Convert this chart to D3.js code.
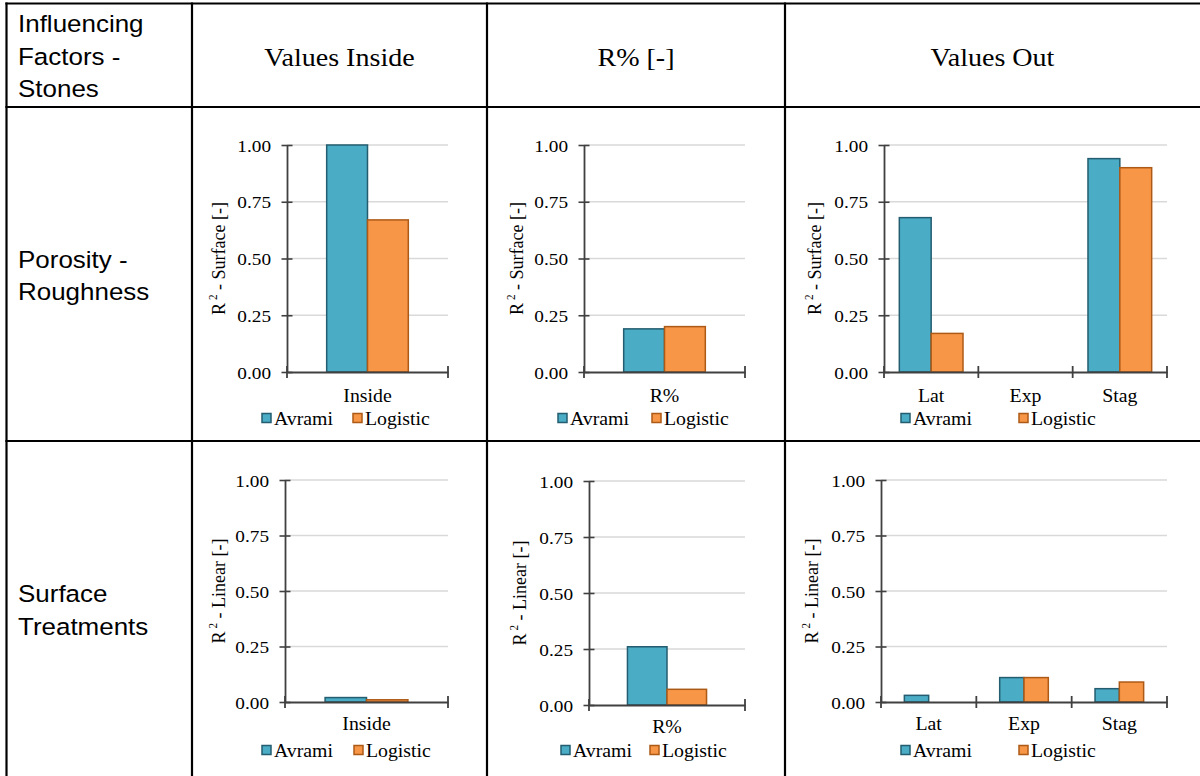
<!DOCTYPE html>
<html>
<head>
<meta charset="utf-8">
<script src="https://cdn.jsdelivr.net/npm/d3@7"></script>
<style>
  html, body { margin: 0; padding: 0; background: #fff; }
  svg { display: block; }
</style>
</head>
<body>
<svg id="chart" width="1200" height="776"></svg>
<script>
// ---------- data ----------
const seriesNames = ["Avrami", "Logistic"];
const columnHeaders = ["Values Inside", "R% [-]", "Values Out"];
const cornerHeader = ["Influencing", "Factors -", "Stones"];
const rowHeaders = [["Porosity -", "Roughness"], ["Surface", "Treatments"]];
const rowAxisTitles = ["Surface", "Linear"];
const yTickValues = [0, 0.25, 0.5, 0.75, 1];

const catsInside = ["Inside"];
const catsRatio = ["R%"];
const catsOut = ["Lat", "Exp", "Stag"];

// R² of the surface fit (porosity - roughness)
const surfaceInsideAvrami = [1.00];
const surfaceInsideLogistic = [0.67];
const surfaceRatioAvrami = [0.19];
const surfaceRatioLogistic = [0.20];
const surfaceOutAvrami = [0.68, null, 0.94];
const surfaceOutLogistic = [0.17, null, 0.90];

// R² of the linear fit (surface treatments)
const linearInsideAvrami = [0.02];
const linearInsideLogistic = [0.01];
const linearRatioAvrami = [0.26];
const linearRatioLogistic = [0.07];
const linearOutAvrami = [0.03, 0.11, 0.06];
const linearOutLogistic = [null, 0.11, 0.09];

// ---------- panels ----------
const panels = [
  { row: 0, cats: catsInside, values: [surfaceInsideAvrami, surfaceInsideLogistic] },
  { row: 0, cats: catsRatio,  values: [surfaceRatioAvrami, surfaceRatioLogistic] },
  { row: 0, cats: catsOut,    values: [surfaceOutAvrami, surfaceOutLogistic] },
  { row: 1, cats: catsInside, values: [linearInsideAvrami, linearInsideLogistic] },
  { row: 1, cats: catsRatio,  values: [linearRatioAvrami, linearRatioLogistic] },
  { row: 1, cats: catsOut,    values: [linearOutAvrami, linearOutLogistic] }
];

// plot frames inside each table cell
const frames = [
  { left: 287, right: 448,  top: 145, bottom: 372, group: 0.507, titleX: 225, catY: 402, legY: 418, legX: [262, 353] },
  { left: 584, right: 745,  top: 145, bottom: 372, group: 0.507, titleX: 523, catY: 402, legY: 418, legX: [558, 652] },
  { left: 884, right: 1167, top: 145, bottom: 372, group: 0.675, titleX: 821, catY: 402, legY: 418, legX: [901, 1019] },
  { left: 285, right: 448,  top: 480, bottom: 702, group: 0.508, titleX: 225, catY: 730, legY: 750, legX: [262, 354] },
  { left: 589, right: 745,  top: 481, bottom: 705, group: 0.507, titleX: 526, catY: 733, legY: 750, legX: [561, 650] },
  { left: 881, right: 1167, top: 480, bottom: 702, group: 0.51,  titleX: 818, catY: 730, legY: 750, legX: [901, 1019] }
];

const fills = ["#4BACC6", "#F79646"];
const strokes = ["#235D6F", "#AD5A17"];
const SERIF = "'Liberation Serif','Times New Roman',Times,serif";
const SANS = "'Liberation Sans',Arial,Helvetica,sans-serif";
const SX = 1.1;            // chart text is set slightly wide
const SX_SANS = 1.06;
const AXIS = "#404040";
const GRID = "#D9D9D9";

const svg = d3.select("#chart");

function label(parent, x, y, str, size, family, anchor, sx) {
  return parent.append("text")
    .attr("transform", `translate(${x},${y}) scale(${sx || SX},1)`)
    .attr("text-anchor", anchor || "start")
    .attr("font-family", family)
    .attr("font-size", size)
    .attr("fill", "#000")
    .text(str);
}

// ---------- table grid ----------
const gridX = [6.5, 192, 487, 785];
const gridY = [3.5, 107, 441];
const table = svg.append("g");
gridX.forEach(x => table.append("line")
  .attr("x1", x).attr("x2", x).attr("y1", 2.5).attr("y2", 776)
  .attr("stroke", "#000").attr("stroke-width", 2.2));
gridY.forEach(y => table.append("line")
  .attr("x1", 5.4).attr("x2", 1200).attr("y1", y).attr("y2", y)
  .attr("stroke", "#000").attr("stroke-width", 2.2));

// header texts
const colCenters = [339.5, 636, 992.5];
columnHeaders.forEach((h, i) => label(svg, colCenters[i], 66, h, 25.5, SERIF, "middle"));
cornerHeader.forEach((t, i) => label(svg, 18, 32 + i * 32.5, t, 24.5, SANS, "start", SX_SANS));
const rowBaselines = [[268, 300], [602, 635]];
rowHeaders.forEach((lines, r) =>
  lines.forEach((t, i) => label(svg, 18, rowBaselines[r][i], t, 24.5, SANS, "start", SX_SANS)));

// ---------- charts ----------
panels.forEach((p, k) => {
  const f = frames[k];
  const g = svg.append("g");

  const y = d3.scaleLinear().domain([0, 1]).range([f.bottom, f.top]);
  const x = d3.scaleBand().domain(p.cats).range([f.left, f.right]).padding(0);
  const step = x.bandwidth();
  const groupW = step * f.group;
  const inner = d3.scaleBand().domain(seriesNames).range([0, groupW]).padding(0);
  const off = (step - groupW) / 2;

  // horizontal gridlines
  g.append("g").selectAll("line")
    .data(yTickValues.filter(v => v > 0))
    .join("line")
    .attr("x1", f.left).attr("x2", f.right)
    .attr("y1", d => y(d)).attr("y2", d => y(d))
    .attr("stroke", GRID).attr("stroke-width", 1.6);

  // bars
  seriesNames.forEach((s, si) => {
    const vals = p.values[si];
    g.append("g").selectAll("rect")
      .data(p.cats.map((c, i) => ({ c, v: vals[i] })).filter(d => d.v != null))
      .join("rect")
      .attr("x", d => x(d.c) + off + inner(s))
      .attr("width", inner.bandwidth())
      .attr("y", d => y(d.v))
      .attr("height", d => y(0) - y(d.v))
      .attr("fill", fills[si])
      .attr("stroke", strokes[si])
      .attr("stroke-width", 1.5);
  });

  // y axis
  const yAxis = g.append("g")
    .attr("transform", `translate(${f.left},0)`)
    .call(d3.axisLeft(y).tickValues(yTickValues).tickFormat(d3.format(".2f")).tickSizeOuter(0));
  yAxis.select(".domain").attr("stroke", AXIS).attr("stroke-width", 1.8);
  yAxis.selectAll(".tick line").attr("x1", -5.5).attr("x2", 5.5)
    .attr("stroke", AXIS).attr("stroke-width", 1.6);
  yAxis.selectAll(".tick text")
    .attr("x", null).attr("dy", "0.35em")
    .attr("transform", `translate(-16,0) scale(${SX},1)`)
    .attr("font-family", SERIF).attr("font-size", 17.5).attr("fill", "#000");

  // x axis
  const xAxis = g.append("g")
    .attr("transform", `translate(0,${y(0)})`)
    .call(d3.axisBottom(x).tickSize(0).tickSizeOuter(0));
  xAxis.select(".domain").attr("stroke", AXIS).attr("stroke-width", 2);
  xAxis.selectAll(".tick text")
    .attr("y", f.catY - f.bottom).attr("dy", null)
    .attr("transform", `scale(${SX},1)`)
    .attr("font-family", SERIF).attr("font-size", 18).attr("fill", "#000");
  // category boundary tick marks
  xAxis.append("g").selectAll("line")
    .data(d3.range(p.cats.length + 1))
    .join("line")
    .attr("x1", i => f.left + i * step).attr("x2", i => f.left + i * step)
    .attr("y1", -6).attr("y2", 6)
    .attr("stroke", AXIS).attr("stroke-width", 1.8);

  // axis title
  const cy = (f.top + f.bottom) / 2;
  const title = g.append("text")
    .attr("transform", `translate(${f.titleX},${cy}) scale(${SX},1) rotate(-90)`)
    .attr("text-anchor", "middle")
    .attr("font-family", SERIF).attr("font-size", 18).attr("fill", "#000");
  title.append("tspan").text("R");
  title.append("tspan").attr("dx", 3).attr("dy", -7).attr("font-size", 11).text("2");
  title.append("tspan").attr("dy", 7).text(` - ${rowAxisTitles[p.row]} [-]`);

  // legend
  seriesNames.forEach((s, si) => {
    const lx = f.legX[si];
    g.append("rect")
      .attr("x", lx).attr("y", f.legY - 4.5)
      .attr("width", 9).attr("height", 9)
      .attr("fill", fills[si]).attr("stroke", strokes[si]).attr("stroke-width", 1.5);
    label(g, lx + 12, f.legY + 6.5, s, 18, SERIF, "start");
  });
});
</script>
</body>
</html>
